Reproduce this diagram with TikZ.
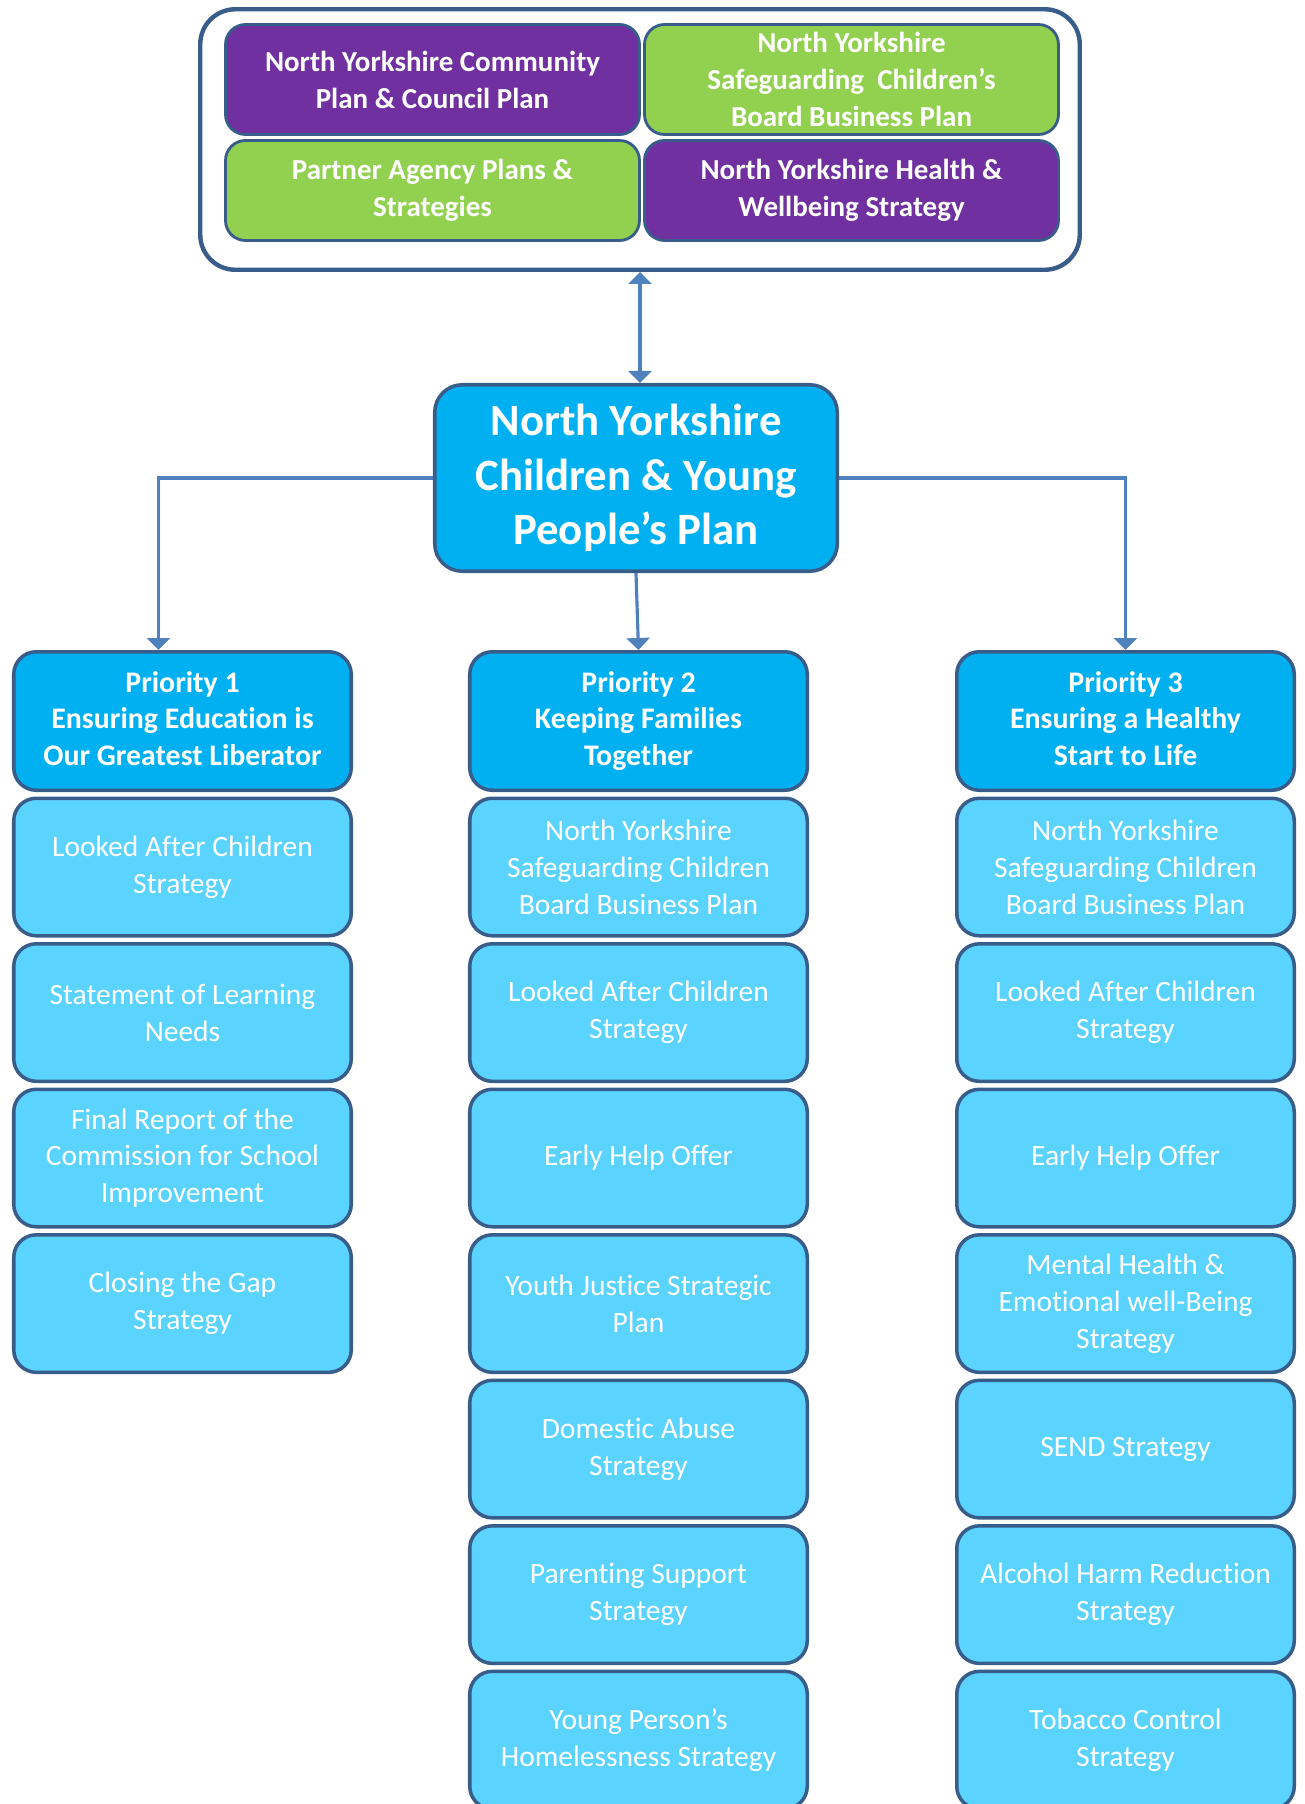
\documentclass[tikz,border=0pt]{standalone}
\usepackage{fontspec}
\setmainfont{Carlito}[Ligatures={NoCommon}]
\usetikzlibrary{arrows.meta,positioning}
\usepackage{xcolor}
\definecolor{nypurple}{RGB}{112,48,160}
\definecolor{nygreen}{RGB}{146,208,80}
\definecolor{nyblue}{RGB}{0,176,240}
\definecolor{nylight}{RGB}{91,211,255}
\definecolor{nyedge}{RGB}{56,93,138}
\definecolor{nyarrow}{RGB}{79,129,189}
\tikzset{
    plan/.style={
        draw=nyedge,line width=1.6pt,rounded corners=0.4cm,fill=#1,
        align=center,text=white,minimum width=8.28cm,
        font=\fontsize{16.5}{21}\selectfont\bfseries
    },
    plan/.default=nypurple,
    priority/.style={
        draw=nyedge,line width=2pt,rounded corners=0.45cm,fill=nyblue,
        align=center,text=white,minimum width=6.75cm,minimum height=2.77cm,
        font=\fontsize{17}{21}\selectfont\bfseries
    },
    strat/.style={
        draw=nyedge,line width=2pt,rounded corners=0.45cm,fill=nylight,
        align=center,text=white,minimum width=6.75cm,minimum height=2.75cm,
        below=0.09cm of #1,font=\fontsize{16.8}{21}\selectfont
    },
    arrow/.style={
        >={Triangle[width=0.46cm,length=0.24cm]},->,line width=1.8pt,draw=nyarrow
    }
}

\begin{document}
\begin{tikzpicture}

\useasboundingbox (0,0) rectangle (26.08,-36.08);

% partner plans
\node[draw=nyedge,line width=2.5pt,rounded corners=0.7cm,
minimum width=17.59cm,minimum height=5.21cm]
(frame) at (12.8,-2.79){};

\node[plan,minimum height=2.2cm]
(cp) at (8.65,-1.59){North Yorkshire Community\\Plan \& Council Plan};
\node[plan=nygreen,minimum height=2.2cm]
(scb) at (17.03,-1.59){North Yorkshire\\Safeguarding\ \ Children’s\\Board Business Plan};
\node[plan=nygreen,minimum height=2.0cm]
(pa) at (8.65,-3.81){Partner Agency Plans \&\\Strategies};
\node[plan,minimum height=2.0cm]
(hw) at (17.03,-3.81){North Yorkshire Health \&\\Wellbeing Strategy};

% main plan
\node[
draw=nyedge,fill=nyblue,text=white,line width=2pt,rounded corners=0.55cm,
minimum width=8.05cm,minimum height=3.73cm,align=center,
font=\fontsize{25.5}{31}\selectfont\bfseries
]
(cyp) at (12.72,-9.56){North Yorkshire\\Children \& Young\\People’s Plan};

% priorities
\node[priority] (p1) at (3.65,-14.42){Priority 1\\Ensuring Education is\\Our Greatest Liberator\vphantom{g}};
\node[priority] (p2) at (12.77,-14.42){Priority 2\\Keeping Families\\Together};
\node[priority] (p3) at (22.51,-14.42){Priority 3\\Ensuring a Healthy\\Start to Life\vphantom{g}};

% priority 1 strategies
\node[strat=p1] (a1){Looked After Children\\Strategy};
\node[strat=a1] (a2){Statement of Learning\\Needs};
\node[strat=a2] (a3){Final Report of the\\Commission for School\\Improvement};
\node[strat=a3] (a4){Closing the Gap\\Strategy};

% priority 2 strategies
\node[strat=p2] (b1){North Yorkshire\\Safeguarding Children\\Board Business Plan};
\node[strat=b1] (b2){Looked After Children\\Strategy};
\node[strat=b2] (b3){Early Help Offer};
\node[strat=b3] (b4){Youth Justice Strategic\\Plan};
\node[strat=b4] (b5){Domestic Abuse\\Strategy};
\node[strat=b5] (b6){Parenting Support\\Strategy};
\node[strat=b6] (b7){Young Person’s\\Homelessness Strategy};

% priority 3 strategies
\node[strat=p3] (c1){North Yorkshire\\Safeguarding Children\\Board Business Plan};
\node[strat=c1] (c2){Looked After Children\\Strategy};
\node[strat=c2] (c3){Early Help Offer};
\node[strat=c3] (c4){Mental Health \&\\Emotional well-Being\\Strategy};
\node[strat=c4] (c5){SEND Strategy};
\node[strat=c5] (c6){Alcohol Harm Reduction\\Strategy};
\node[strat=c6] (c7){Tobacco Control\\Strategy};

\draw[arrow,<->](frame.south)--(frame.south |- cyp.north);
\draw[arrow](cyp.west)-|([xshift=-0.48cm]p1.north);
\draw[arrow](cyp.south)--(p2.north);
\draw[arrow](cyp.east)-|(p3.north);

\end{tikzpicture}
\end{document}
